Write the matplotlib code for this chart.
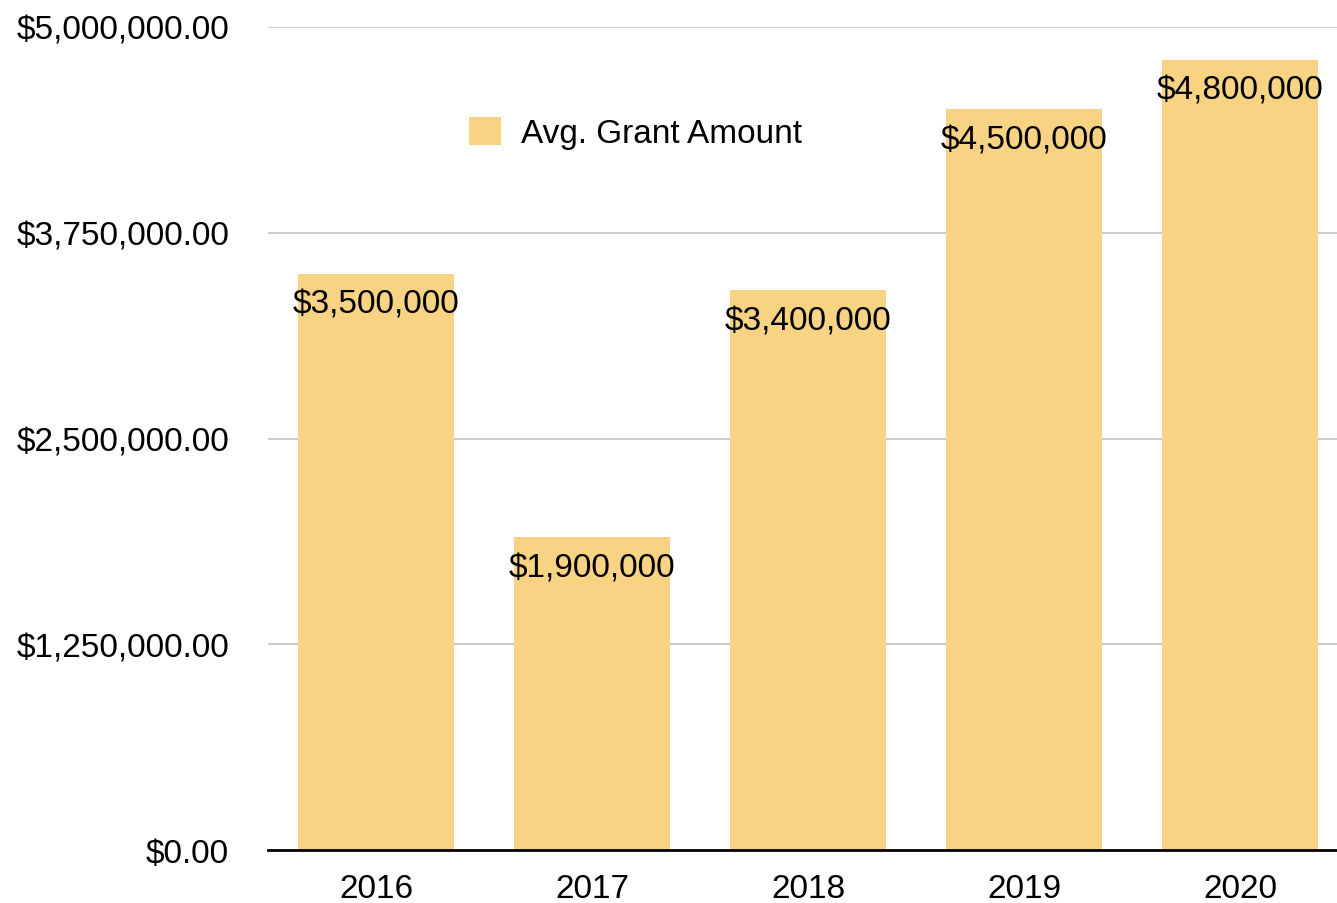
import matplotlib
matplotlib.use("Agg")
import matplotlib.pyplot as plt
from matplotlib.ticker import FuncFormatter

years = ["2016", "2017", "2018", "2019", "2020"]
avg_grant = [3500000, 1900000, 3400000, 4500000, 4800000]
series_name = "Avg. Grant Amount"
yticks = [0, 1250000, 2500000, 3750000, 5000000]

plt.rcParams['font.family'] = ['Liberation Sans', 'DejaVu Sans']

W, H = 1337, 904
fig = plt.figure(figsize=(W / 100, H / 100), dpi=100)
ax = fig.add_axes([268 / W, 53 / H, (1348 - 268) / W, (851 - 28) / H])

bar_color = "#F7D383"
x = list(range(len(years)))
bars = ax.bar(x, avg_grant, width=0.72, color=bar_color, label=series_name, zorder=2)

for xi, v in zip(x, avg_grant):
    ax.annotate(f"${v:,.0f}", (xi, v), xytext=(0, -15), textcoords="offset pixels",
                ha="center", va="top", fontsize=24, color="black", zorder=3)

ax.set_xlim(-0.5, 4.5)
ax.set_ylim(0, 5000000)
ax.set_xticks(x)
ax.set_xticklabels(years)
ax.set_yticks(yticks)
ax.yaxis.set_major_formatter(FuncFormatter(lambda v, p: f"${v:,.2f}"))
ax.tick_params(axis="both", length=0, labelsize=24)
ax.tick_params(axis="y", pad=28)
ax.tick_params(axis="x", pad=16.5)
ax.grid(axis="y", color="#C8C8C8", linewidth=1.3, zorder=0)
for s in ["left", "right", "top"]:
    ax.spines[s].set_visible(False)
ax.spines["bottom"].set_color("black")
ax.spines["bottom"].set_linewidth(2)
ax.spines["bottom"].set_zorder(4)

leg = ax.legend(loc="center left", bbox_to_anchor=(446 / W, (904 - 134) / H),
                bbox_transform=fig.transFigure, frameon=False, fontsize=24,
                handlelength=0.95, handleheight=0.95, handletextpad=0.6,
                borderpad=0.2)

fig.savefig("out.png", dpi=100)
